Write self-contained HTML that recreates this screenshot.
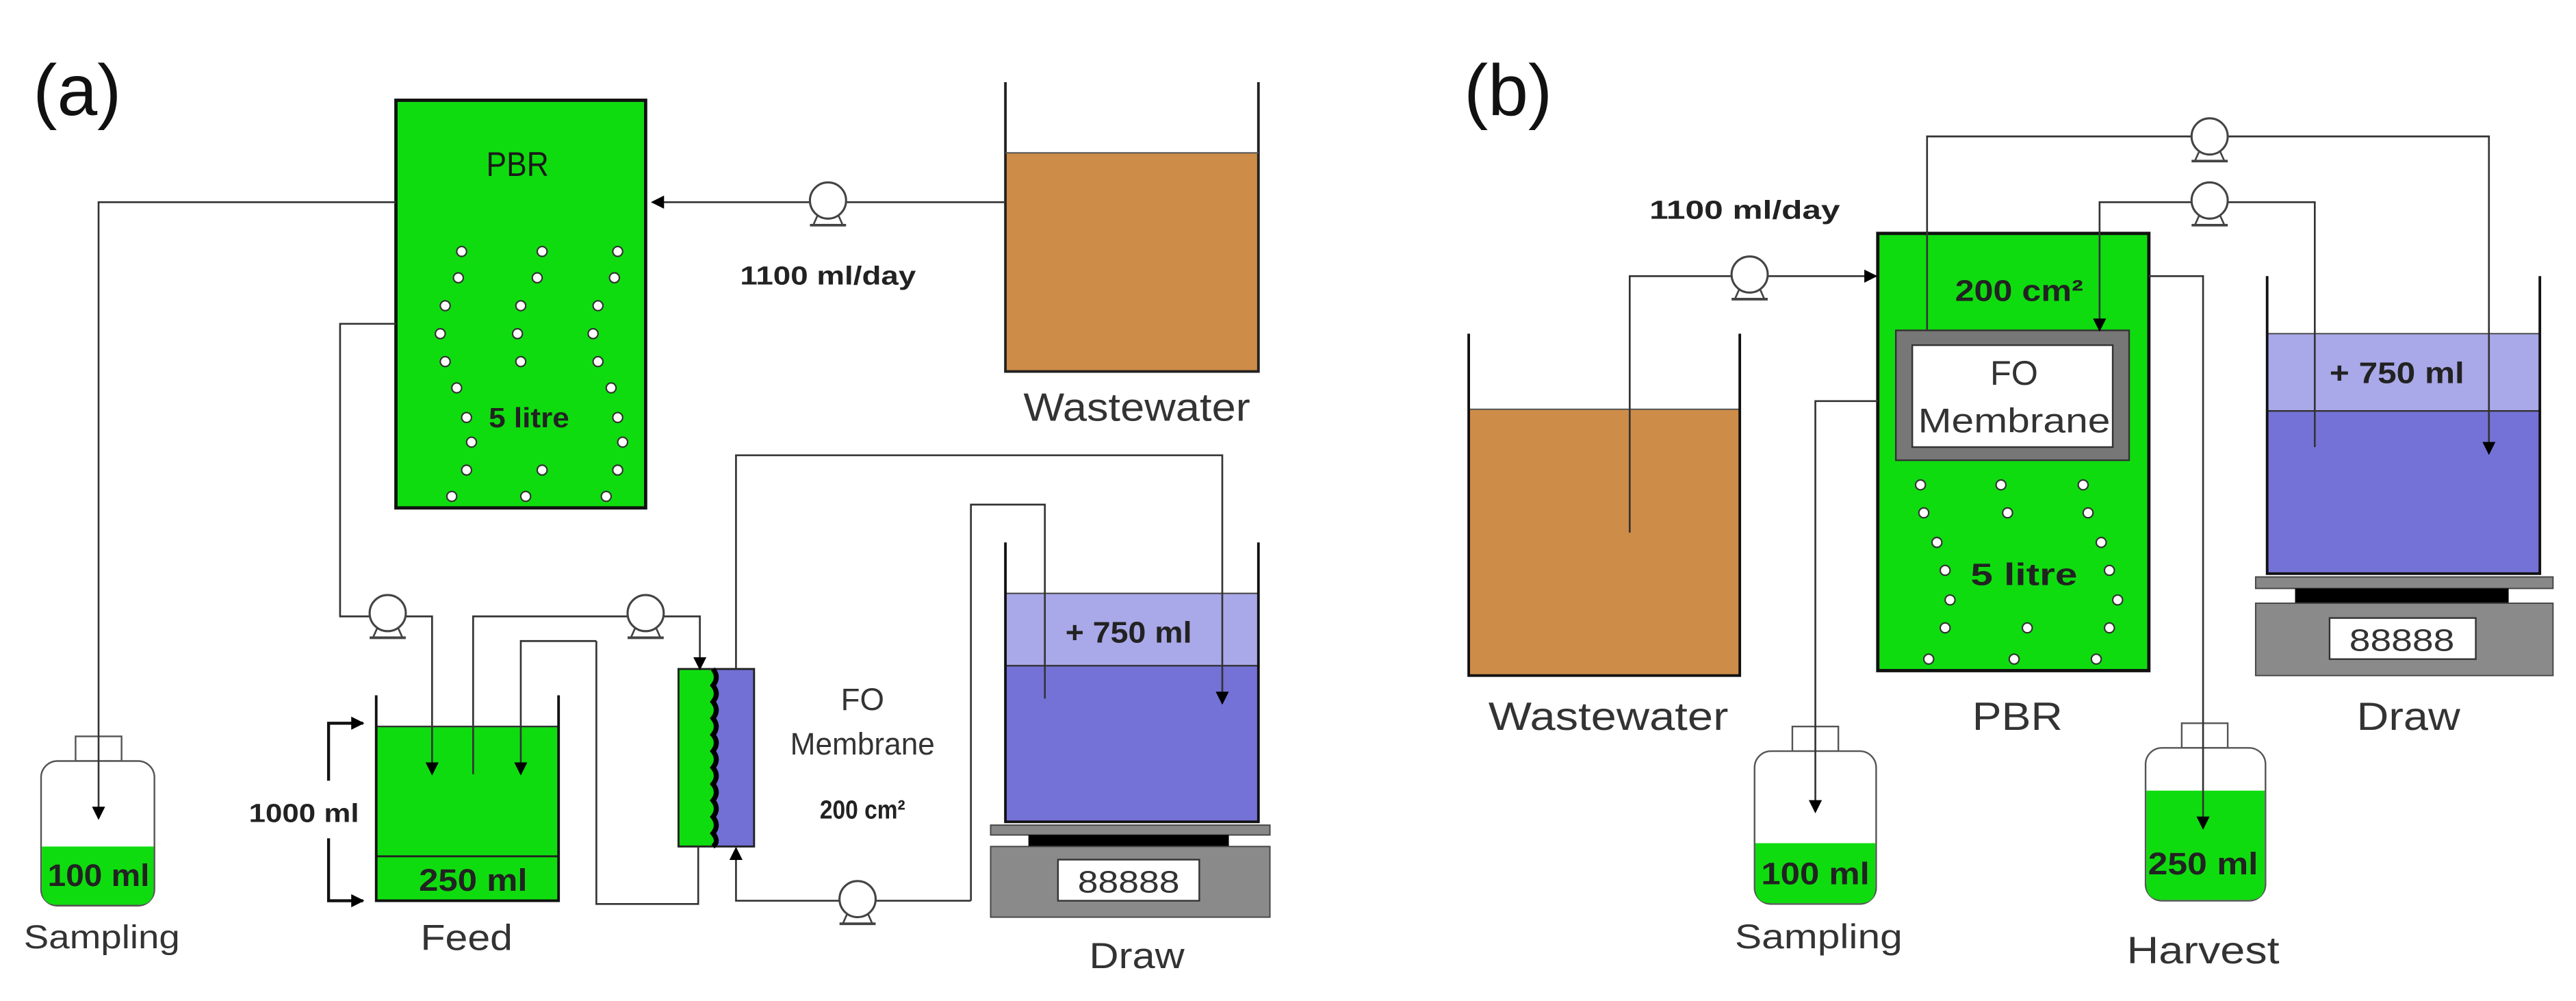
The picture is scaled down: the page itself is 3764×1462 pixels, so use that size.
<!DOCTYPE html>
<html><head><meta charset="utf-8"><style>
html,body{margin:0;padding:0;background:#fff;}
svg{display:block;}
text{font-family:"Liberation Sans",Arial,sans-serif;fill:#222;text-anchor:middle;}
.b{font-weight:bold;}
.l{fill:#333;}
</style></head><body>
<svg width="3764" height="1462" viewBox="0 0 1568 609" preserveAspectRatio="none" xmlns="http://www.w3.org/2000/svg">
<defs>
<marker id="ar" viewBox="0 0 10 10" refX="9" refY="5" markerWidth="8" markerHeight="8" markerUnits="userSpaceOnUse" orient="auto"><path d="M0,0L10,5L0,10z" fill="#000"/></marker>
<g id="pump"><path d="M-9,15 L-5,6 L5,6 L9,15 Z" fill="#fff" stroke="#444" stroke-width="1.1"/><line x1="-11" y1="15" x2="11" y2="15" stroke="#444" stroke-width="1.6"/><circle r="11" fill="#fff" stroke="#444" stroke-width="1.3"/></g>
<g id="bub"><circle r="3" fill="#fff" stroke="#333" stroke-width="0.9"/></g>
</defs>

<!-- ===== PANEL A ===== -->
<text x="47" y="70" font-size="44" style="fill:#111">(a)</text>

<rect x="241" y="61" width="152" height="248" fill="#0fdc0f" stroke="#111" stroke-width="2"/>
<text x="315" y="107" font-size="21" textLength="38" lengthAdjust="spacingAndGlyphs" style="fill:#1a1a1a">PBR</text>
<text x="322" y="260" class="b" font-size="17" textLength="49" lengthAdjust="spacingAndGlyphs">5 litre</text>
<g>
<use href="#bub" x="281" y="153"/><use href="#bub" x="279" y="169"/><use href="#bub" x="271" y="186"/><use href="#bub" x="268" y="203"/><use href="#bub" x="271" y="220"/><use href="#bub" x="278" y="236"/><use href="#bub" x="284" y="254"/><use href="#bub" x="287" y="269"/><use href="#bub" x="284" y="286"/><use href="#bub" x="275" y="302"/>
<use href="#bub" x="330" y="153"/><use href="#bub" x="327" y="169"/><use href="#bub" x="317" y="186"/><use href="#bub" x="315" y="203"/><use href="#bub" x="317" y="220"/><use href="#bub" x="330" y="286"/><use href="#bub" x="320" y="302"/>
<use href="#bub" x="376" y="153"/><use href="#bub" x="374" y="169"/><use href="#bub" x="364" y="186"/><use href="#bub" x="361" y="203"/><use href="#bub" x="364" y="220"/><use href="#bub" x="372" y="236"/><use href="#bub" x="376" y="254"/><use href="#bub" x="379" y="269"/><use href="#bub" x="376" y="286"/><use href="#bub" x="369" y="302"/>
</g>

<rect x="612" y="93" width="154" height="133" fill="#cd8c48"/>
<path d="M612,50 V226 H766 V50" fill="none" stroke="#222" stroke-width="1.6"/>
<line x1="612" y1="93" x2="766" y2="93" stroke="#555" stroke-width="0.8"/>
<text x="692" y="256" class="l" font-size="24" textLength="138" lengthAdjust="spacingAndGlyphs">Wastewater</text>
<text x="504" y="173" class="b" font-size="16" textLength="107" lengthAdjust="spacingAndGlyphs">1100 ml/day</text>

<rect x="46" y="448" width="28" height="15" fill="#fff" stroke="#555" stroke-width="1"/>
<rect x="25" y="463" width="69" height="88" rx="10" fill="#fff" stroke="#555" stroke-width="1"/>
<path d="M25.5,515 H93.5 V541 Q93.5,550.5 84,550.5 H35 Q25.5,550.5 25.5,541 Z" fill="#0fdc0f"/>
<text x="60" y="539" class="b" font-size="19" textLength="62" lengthAdjust="spacingAndGlyphs">100 ml</text>
<text x="62" y="577" class="l" font-size="20" textLength="95" lengthAdjust="spacingAndGlyphs">Sampling</text>

<rect x="229" y="442" width="111" height="106" fill="#0fdc0f"/>
<line x1="229" y1="442" x2="340" y2="442" stroke="#333" stroke-width="1"/>
<line x1="229" y1="521" x2="340" y2="521" stroke="#222" stroke-width="1.2"/>
<path d="M229,423 V548 H340 V423" fill="none" stroke="#111" stroke-width="1.6"/>
<text x="288" y="542" class="b" font-size="19" textLength="66" lengthAdjust="spacingAndGlyphs">250 ml</text>
<text x="284" y="578" class="l" font-size="22" textLength="56" lengthAdjust="spacingAndGlyphs">Feed</text>
<g fill="none" stroke="#111" stroke-width="1.8">
<path d="M200,475 V440 H221" marker-end="url(#ar)"/>
<path d="M200,510 V548 H221" marker-end="url(#ar)"/>
</g>
<text x="185" y="500" class="b" font-size="16" textLength="67" lengthAdjust="spacingAndGlyphs">1000 ml</text>

<rect x="413" y="407" width="22" height="108" fill="#0fdc0f"/>
<rect x="435" y="407" width="24" height="108" fill="#7270d4"/>
<rect x="413" y="407" width="46" height="108" fill="none" stroke="#222" stroke-width="1.2"/>
<path d="M434,407 q4,5 0,10 q4,5 0,10 q4,5 0,10 q4,5 0,10 q4,5 0,10 q4,5 0,10 q4,5 0,10 q4,5 0,10 q4,5 0,10 q4,5 0,10 q4,5 0,8" fill="none" stroke="#000" stroke-width="3"/>
<text x="525" y="432" class="l" font-size="19">FO</text>
<text x="525" y="459" class="l" font-size="19" textLength="88" lengthAdjust="spacingAndGlyphs">Membrane</text>
<text x="525" y="498" class="b" font-size="16" textLength="52" lengthAdjust="spacingAndGlyphs">200 cm²</text>

<rect x="612" y="361" width="154" height="44" fill="#a9a8e8"/>
<rect x="612" y="405" width="154" height="95" fill="#7472d6"/>
<line x1="612" y1="361" x2="766" y2="361" stroke="#444" stroke-width="0.8"/>
<line x1="612" y1="405" x2="766" y2="405" stroke="#333" stroke-width="1"/>
<path d="M612,330 V500 H766 V330" fill="none" stroke="#111" stroke-width="1.6"/>
<text x="687" y="391" class="b" font-size="18" textLength="77" lengthAdjust="spacingAndGlyphs">+ 750 ml</text>
<rect x="603" y="502" width="170" height="6" fill="#888" stroke="#444" stroke-width="0.8"/>
<rect x="626" y="508" width="122" height="7" fill="#000"/>
<rect x="603" y="515" width="170" height="43" fill="#8a8a8a" stroke="#444" stroke-width="0.8"/>
<rect x="644" y="523" width="86" height="25" fill="#fff" stroke="#333" stroke-width="1"/>
<text x="687" y="543" font-size="19" textLength="62" lengthAdjust="spacingAndGlyphs" style="fill:#333">88888</text>
<text x="692" y="589" class="l" font-size="22" textLength="58" lengthAdjust="spacingAndGlyphs">Draw</text>

<g fill="none" stroke="#333" stroke-width="1.1">
<path d="M241,123 H60 V498" marker-end="url(#ar)"/>
<path d="M612,123 H397" marker-end="url(#ar)"/>
<path d="M241,197 H207 V375 H263 V471" marker-end="url(#ar)"/>
<path d="M288,471 V375 H426 V407" marker-end="url(#ar)"/>
<path d="M363,390 H317 V471" marker-end="url(#ar)"/>
<path d="M363,390 V550 H425 V515"/>
<path d="M591,548 H448 V516" marker-end="url(#ar)"/>
<path d="M591,548 V307 H636 V425"/>
<path d="M448,407 V277 H744 V428" marker-end="url(#ar)"/>
</g>
<use href="#pump" x="504" y="122"/>
<use href="#pump" x="236" y="373"/>
<use href="#pump" x="393" y="373"/>
<use href="#pump" x="522" y="547"/>

<!-- ===== PANEL B ===== -->
<text x="918" y="70" font-size="44" style="fill:#111">(b)</text>

<rect x="894" y="249" width="165" height="162" fill="#cd8c48"/>
<line x1="894" y1="249" x2="1059" y2="249" stroke="#555" stroke-width="0.8"/>
<path d="M894,203 V411 H1059 V203" fill="none" stroke="#111" stroke-width="1.6"/>
<text x="979" y="444" class="l" font-size="24" textLength="146" lengthAdjust="spacingAndGlyphs">Wastewater</text>
<text x="1062" y="133" class="b" font-size="16" textLength="116" lengthAdjust="spacingAndGlyphs">1100 ml/day</text>

<rect x="1143" y="142" width="165" height="266" fill="#0fdc0f" stroke="#111" stroke-width="2"/>
<rect x="1154" y="201" width="142" height="79" fill="#777" stroke="#333" stroke-width="1"/>
<rect x="1164" y="210" width="122" height="62" fill="#fff" stroke="#333" stroke-width="1"/>
<text x="1226" y="234" class="l" font-size="21">FO</text>
<text x="1226" y="263" class="l" font-size="21" textLength="117" lengthAdjust="spacingAndGlyphs">Membrane</text>
<text x="1229" y="183" class="b" font-size="18" textLength="78" lengthAdjust="spacingAndGlyphs">200 cm²</text>
<text x="1232" y="356" class="b" font-size="19" textLength="65" lengthAdjust="spacingAndGlyphs">5 litre</text>
<g>
<use href="#bub" x="1169" y="295"/><use href="#bub" x="1171" y="312"/><use href="#bub" x="1179" y="330"/><use href="#bub" x="1184" y="347"/><use href="#bub" x="1187" y="365"/><use href="#bub" x="1184" y="382"/><use href="#bub" x="1174" y="401"/>
<use href="#bub" x="1218" y="295"/><use href="#bub" x="1222" y="312"/><use href="#bub" x="1234" y="382"/><use href="#bub" x="1226" y="401"/>
<use href="#bub" x="1268" y="295"/><use href="#bub" x="1271" y="312"/><use href="#bub" x="1279" y="330"/><use href="#bub" x="1284" y="347"/><use href="#bub" x="1289" y="365"/><use href="#bub" x="1284" y="382"/><use href="#bub" x="1276" y="401"/>
</g>
<text x="1228" y="444" class="l" font-size="24" textLength="55" lengthAdjust="spacingAndGlyphs">PBR</text>

<rect x="1091" y="442" width="28" height="15" fill="#fff" stroke="#555" stroke-width="1"/>
<rect x="1068" y="457" width="74" height="93" rx="10" fill="#fff" stroke="#555" stroke-width="1"/>
<path d="M1068.5,513 H1141.5 V540 Q1141.5,549.5 1132,549.5 H1078 Q1068.5,549.5 1068.5,540 Z" fill="#0fdc0f"/>
<text x="1105" y="538" class="b" font-size="19" textLength="66" lengthAdjust="spacingAndGlyphs">100 ml</text>
<text x="1107" y="577" class="l" font-size="21" textLength="102" lengthAdjust="spacingAndGlyphs">Sampling</text>

<rect x="1328" y="440" width="28" height="15" fill="#fff" stroke="#555" stroke-width="1"/>
<rect x="1306" y="455" width="73" height="93" rx="10" fill="#fff" stroke="#555" stroke-width="1"/>
<path d="M1306.5,481 H1378.5 V538 Q1378.5,547.5 1369,547.5 H1316 Q1306.5,547.5 1306.5,538 Z" fill="#0fdc0f"/>
<text x="1341" y="532" class="b" font-size="19" textLength="67" lengthAdjust="spacingAndGlyphs">250 ml</text>
<text x="1341" y="586" class="l" font-size="23" textLength="93" lengthAdjust="spacingAndGlyphs">Harvest</text>

<rect x="1380" y="203" width="166" height="47" fill="#a9a8e8"/>
<rect x="1380" y="250" width="166" height="99" fill="#7472d6"/>
<line x1="1380" y1="203" x2="1546" y2="203" stroke="#444" stroke-width="0.8"/>
<line x1="1380" y1="250" x2="1546" y2="250" stroke="#333" stroke-width="1"/>
<path d="M1380,168 V349 H1546 V168" fill="none" stroke="#111" stroke-width="1.6"/>
<text x="1459" y="233" class="b" font-size="18" textLength="82" lengthAdjust="spacingAndGlyphs">+ 750 ml</text>
<rect x="1373" y="351" width="181" height="7" fill="#888" stroke="#444" stroke-width="0.8"/>
<rect x="1397" y="358" width="130" height="9" fill="#000"/>
<rect x="1373" y="367" width="181" height="44" fill="#8a8a8a" stroke="#444" stroke-width="0.8"/>
<rect x="1418" y="376" width="89" height="25" fill="#fff" stroke="#333" stroke-width="1"/>
<text x="1462" y="396" font-size="19" textLength="64" lengthAdjust="spacingAndGlyphs" style="fill:#333">88888</text>
<text x="1466" y="444" class="l" font-size="24" textLength="63" lengthAdjust="spacingAndGlyphs">Draw</text>

<g fill="none" stroke="#333" stroke-width="1.1">
<path d="M1173,201 V83 H1515 V276" marker-end="url(#ar)"/>
<path d="M1409,272 V123 H1278 V201" marker-end="url(#ar)"/>
<path d="M992,324 V168 H1142" marker-end="url(#ar)"/>
<path d="M1143,244 H1105 V494" marker-end="url(#ar)"/>
<path d="M1308,168 H1341 V504" marker-end="url(#ar)"/>
</g>
<use href="#pump" x="1065" y="167"/>
<use href="#pump" x="1345" y="83"/>
<use href="#pump" x="1345" y="122"/>
</svg>
</body></html>
